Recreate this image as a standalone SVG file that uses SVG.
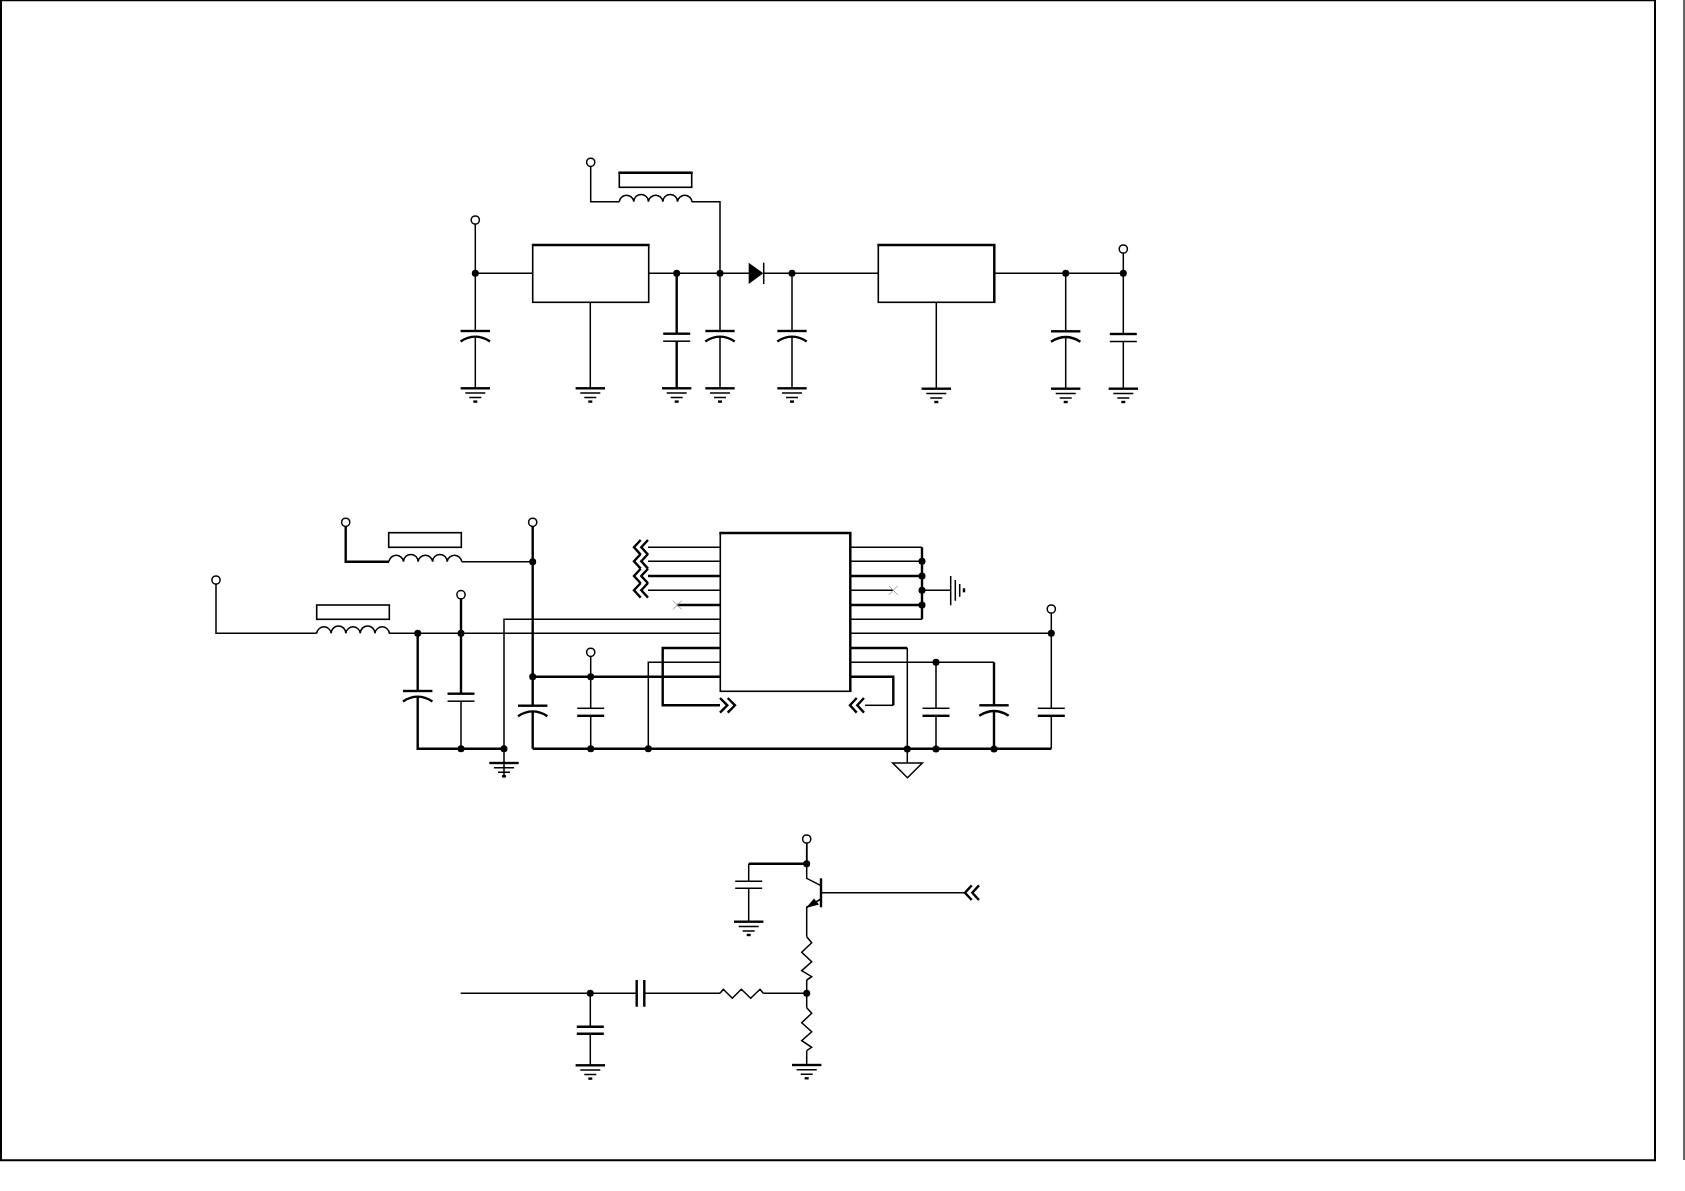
<svg xmlns="http://www.w3.org/2000/svg" xmlns:xlink="http://www.w3.org/1999/xlink" width="1685" height="1191" viewBox="0 0 1685 1191">
<style>
.w{fill:none;stroke:#000;stroke-width:1.5;stroke-linejoin:miter}
.t{fill:none;stroke:#000;stroke-width:2.4}
.b{fill:#fff;stroke:#000;stroke-width:1.6}
.x{fill:none;stroke:#999;stroke-width:.9}
.d{fill:#000;stroke:none}
</style>
<defs>
<circle id="j" r="3.5" class="d"/>
<circle id="o" r="4.1" fill="#fff" stroke="#000" stroke-width="1.5"/>
<g id="gnd"><path class="t" d="M-14.7 0H14.7" stroke-width="1.9"/><path class="w" d="M-10 4.7H10M-6 9.3H6"/><path class="t" d="M-2 13.3H2" stroke-width="1.8"/></g>
<g id="pc"><path class="t" d="M-14.7 0H14.7" stroke-width="1.7"/><path class="t" d="M-14.7 10.5Q0 0.8 14.7 10.5" stroke-width="1.7"/></g>
<g id="np"><path class="w" d="M-13.5 0H13.5"/><path class="t" d="M-13.5 7.5H13.5"/></g>
<g id="npt"><path class="t" d="M-13.5 0H13.5"/><path class="w" d="M-13.5 7.5H13.5"/></g>
<path id="ind" class="w" d="M0 0a7.3 7.3 0 0 1 14.5 0a7.3 7.3 0 0 1 14.6 0a7.3 7.3 0 0 1 14.5 0a7.3 7.3 0 0 1 14.6 0a7.3 7.3 0 0 1 14.5 0" stroke-width="1.7"/>
<path id="ll" class="t" d="M6.7 -7.3L0 0L6.7 7.3M14 -7.3L7.3 0L14 7.3" stroke-width="1.7"/>
<path id="rr" class="t" d="M0 -7.3L7.3 0L0 7.3M7.7 -7.3L15 0L7.7 7.3" stroke-width="1.7"/>
</defs>
<g id="frame"><path d="M0 .6H1655M1684 0V1160" fill="none" stroke="#000" stroke-width="1.2"/><path d="M1 0V1160.3H1655V0" fill="none" stroke="#000" stroke-width="2"/></g>
<g id="connectors">
<path class="w" d="M590.7 166V201.7H619.3M691.7 201.7H720V273.3"/>
<path class="w" d="M475.3 224V331M475.3 337V388.3M475.3 273.3H532.7M648.7 273.3H749M763.7 273.3H878.3M590.3 302.3V388.3M720 273.3V331M720 337V388.3M792 273.3V331M792 337V388.3"/>
<path class="t" d="M676.7 273.3V333.7M676.7 341.3V388.3"/>
<path class="w" d="M994.3 273.3H1123.3M936.3 302.3V388.7M1065.7 273.3V331.3M1065.7 337.3V388.7M1123.3 253V334M1123.3 341.5V388.7"/>
<path class="w" d="M461.7 561.7H532.7"/>
<path class="t" d="M345.7 526.3V561.7H389"  stroke-width="2"/>
<path class="t" d="M532.7 526.3V705.7M532.7 711V748.7" stroke-width="2"/>
<path class="w" d="M216 584V633.3H316.7M389 633.3H1051.3M504 776V619.3H720.3"/>
<path class="t" d="M417.7 633.3V691M417.7 697V748.7H504M461 598.7V693.7"/>
<path class="w" d="M461 701.3V748.7M590.7 656.3V708.3M590.7 715.8V748.7"/>
<path class="t" d="M532.7 676.7H720M532.7 748.7H1051.3"/>
<path class="w" d="M1051.3 613V708.3M1051.3 715.8V748.7"/>
<path class="w" d="M648 547.3H720.3M648 561.3H720.3M648 590.3H720.3M648.3 748.7V662.3H720.3"/>
<path class="t" d="M648 576H720.3M677.3 605H720.3M720 648H662.7V705.3H720"/>
<path class="w" d="M850.3 547.3H922M850.3 561.3H922M850.3 590.3H893.3M850.3 619.3H922M922 590.3H950.7"/>
<path class="t" d="M850.3 576H922M850.3 605H922M922 547.3V619.3M850.3 648H907.3"/>
<path class="w" d="M907.3 648V763M850.3 662.3H994M936 662.3V708.3M936 716V749"/>
<path class="t" d="M850.3 676.7H893.3V705.3"/>
<path class="w" d="M893.3 705.3H865"/>
<path class="t" d="M994 662.3V705.3M994 712V749"/>
<path class="w" d="M748.7 921.7V888.3M748.7 881.3V863.7M806.7 839V863.7"/>
<path class="t" d="M748.7 863.7H806.7"/>
<path class="w" d="M806.7 843V878.3L821 885.7M821 899L806.7 907.3V936.7M806.7 980V1007.7M806.7 1050.7V1065M821 892.7H965"/>
<path class="w" d="M460.7 993.3H636.7M644.3 993.3H720M763.3 993.3H806.7M590.3 993.3V1026.7M590.3 1033.7V1065.3"/>
</g>
<g id="u1"><rect x="532.7" y="245" width="116" height="57.3" class="b"/><path class="t" d="M531.9 245H649.5"/></g>
<g id="u2"><rect x="878.3" y="245" width="116" height="57.3" class="b"/><path class="t" d="M877.5 245H994.3V303"/></g>
<g id="u3"><rect x="720.3" y="533" width="130" height="158.3" class="b"/><path class="t" d="M719.5 533H850.3V692"/></g>
<g id="l1"><rect x="619.3" y="172.7" width="72.4" height="14.6" class="b"/><path class="t" d="M618.5 172.7H692.5"/><use xlink:href="#ind" x="619.3" y="201.7"/></g>
<g id="l2"><rect x="388.7" y="532.7" width="72.6" height="14.6" class="b" stroke-width="2"/><use xlink:href="#ind" x="389" y="561.7"/></g>
<g id="l3"><rect x="316.7" y="605" width="72.6" height="14.3" class="b" stroke-width="2"/><use xlink:href="#ind" x="316.7" y="633.3"/></g>
<g id="d1"><path class="d" d="M748.7 262.7L763.3 273.3L748.7 284Z"/><path class="w" d="M763.7 262.7V284"/></g>
<g id="caps">
<use xlink:href="#pc" x="475.3" y="331"/><use xlink:href="#npt" x="676.7" y="333.7"/>
<use xlink:href="#pc" x="720" y="331"/><use xlink:href="#pc" x="792" y="331"/>
<use xlink:href="#pc" x="1065.7" y="331.3"/>
<use xlink:href="#npt" x="1123.3" y="334"/>
<use xlink:href="#pc" x="417.7" y="691"/>
<use xlink:href="#npt" x="461" y="693.7"/>
<use xlink:href="#pc" x="532.7" y="705.7"/>
<use xlink:href="#np" x="590.7" y="708.3"/>
<use xlink:href="#np" x="936" y="708.3"/>
<use xlink:href="#pc" x="994" y="705.3"/>
<use xlink:href="#np" x="1051.3" y="708.3"/>
<path class="w" d="M735.2 881.3H762.2M735.2 888.3H762.2"/>
<path class="t" d="M636.7 980V1006.7M644.3 980V1006.7"/>
<path class="t" d="M576.8 1026.7H603.8M576.8 1033.7H603.8"/>
</g>
<g id="grounds">
<use xlink:href="#gnd" x="475.3" y="388.3"/><use xlink:href="#gnd" x="590.3" y="388.3"/>
<use xlink:href="#gnd" x="676.7" y="388.3"/><use xlink:href="#gnd" x="720" y="388.3"/>
<use xlink:href="#gnd" x="792" y="388.3"/><use xlink:href="#gnd" x="936.3" y="388.7"/>
<use xlink:href="#gnd" x="1065.7" y="388.7"/><use xlink:href="#gnd" x="1123.3" y="388.7"/>
<use xlink:href="#gnd" x="504" y="763"/>
<use xlink:href="#gnd" x="748.7" y="921.7"/><use xlink:href="#gnd" x="806.7" y="1065"/><use xlink:href="#gnd" x="590.3" y="1065.3"/>
<path class="w" d="M892.7 763H922.3L907.5 777.7Z"/>
<path class="w" d="M950.7 576V605.3M955.3 580V600.7M959.7 584V596.7"/><path class="t" d="M964 588.3V592.3" stroke-width="1.8"/>
</g>
<g id="q1"><path class="t" d="M821 878.3V907.3" stroke-width="1.8"/><path class="d" d="M806 908L814 898.5L819 904.5Z"/></g>
<g id="resistors">
<path class="w" d="M806.7 936.7L811.7 942.7L801.7 952.3L811.7 961.7L801.7 970.7L811.7 976.7L806.7 980"/>
<path class="w" d="M806.7 1007.7L811.7 1013.3L801.7 1022.7L811.7 1031.7L801.7 1040.7L811.7 1047.3L806.7 1050.7"/>
<path class="w" d="M720 993.3L723.3 989.3L732.3 998.3L741.3 989.3L750.7 998.3L760 989.3L763.3 993.3"/>
</g>
<g id="offpage">
<use xlink:href="#ll" x="634" y="547.3"/><use xlink:href="#ll" x="634" y="561.3"/><use xlink:href="#ll" x="634" y="576"/><use xlink:href="#ll" x="634" y="590.3"/>
<use xlink:href="#rr" x="720" y="705.3"/><use xlink:href="#ll" x="850" y="705.3"/><use xlink:href="#ll" x="965" y="892.7"/>
<path class="x" d="M672.8 600.5L681.8 609.5M672.8 609.5L681.8 600.5M888.8 585.8L897.8 594.8M888.8 594.8L897.8 585.8"/>
</g>
<g id="junctions">
<use xlink:href="#j" x="475.3" y="273.3"/><use xlink:href="#j" x="676.7" y="273.3"/><use xlink:href="#j" x="720" y="273.3"/><use xlink:href="#j" x="792" y="273.3"/><use xlink:href="#j" x="1065.7" y="273.3"/><use xlink:href="#j" x="1123.3" y="273.3"/>
<use xlink:href="#j" x="532.7" y="561.7"/><use xlink:href="#j" x="417.7" y="633.3"/><use xlink:href="#j" x="461" y="633.3"/><use xlink:href="#j" x="461" y="748.7"/><use xlink:href="#j" x="504" y="748.7"/><use xlink:href="#j" x="532.7" y="676.7"/><use xlink:href="#j" x="590.7" y="676.7"/><use xlink:href="#j" x="590.7" y="748.7"/><use xlink:href="#j" x="648.3" y="748.7"/>
<use xlink:href="#j" x="922" y="561.3"/><use xlink:href="#j" x="922" y="576"/><use xlink:href="#j" x="922" y="590.3"/><use xlink:href="#j" x="922" y="605"/>
<use xlink:href="#j" x="1051.3" y="633.3"/><use xlink:href="#j" x="936" y="662.3"/><use xlink:href="#j" x="907.3" y="749"/><use xlink:href="#j" x="936" y="749"/><use xlink:href="#j" x="994" y="749"/>
<use xlink:href="#j" x="806.7" y="863.7"/><use xlink:href="#j" x="806.7" y="993.3"/><use xlink:href="#j" x="590.3" y="993.3"/>
</g>
<g id="terminals">
<use xlink:href="#o" x="590.7" y="162.3"/><use xlink:href="#o" x="475.3" y="220"/><use xlink:href="#o" x="1123.3" y="249"/>
<use xlink:href="#o" x="345.7" y="522.3"/><use xlink:href="#o" x="532.7" y="522.3"/><use xlink:href="#o" x="216" y="580"/><use xlink:href="#o" x="461" y="594.7"/><use xlink:href="#o" x="590.7" y="652.3"/><use xlink:href="#o" x="1051.3" y="609"/><use xlink:href="#o" x="806.7" y="839"/>
</g>
</svg>
